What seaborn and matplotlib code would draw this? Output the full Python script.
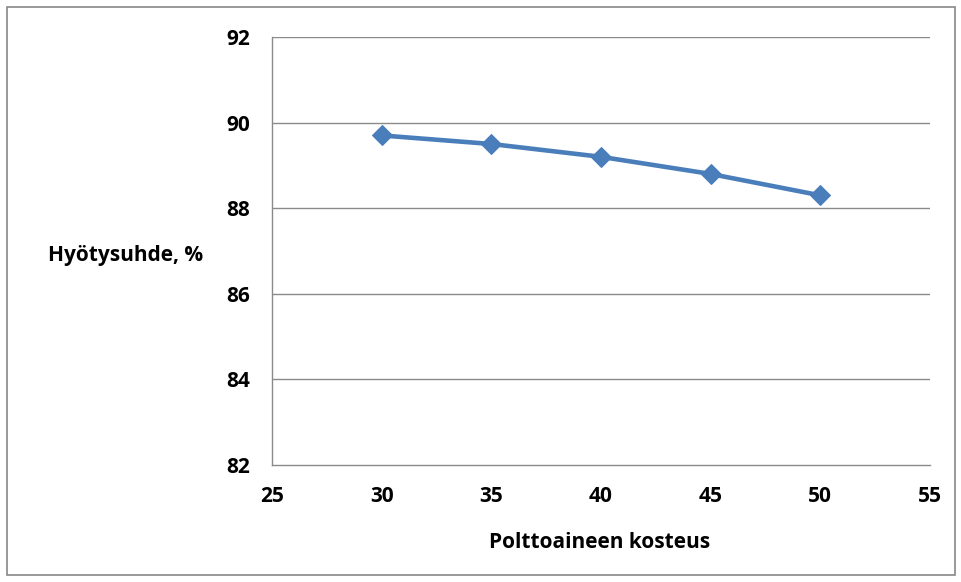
import matplotlib.pyplot as plt
import matplotlib.patches as patches
import pandas as pd
import seaborn as sns

# Data
moisture = [30, 35, 40, 45, 50]
efficiency = [89.7, 89.5, 89.2, 88.8, 88.3]
x_ticks = [25, 30, 35, 40, 45, 50, 55]
y_ticks = [82, 84, 86, 88, 90, 92]

df = pd.DataFrame({'kosteus': moisture, 'hyotysuhde': efficiency})

sns.set_style('white')
plt.rcParams['font.family'] = ['Open Sans', 'DejaVu Sans']
plt.rcParams['text.color'] = 'black'
plt.rcParams['xtick.labelcolor'] = 'black'
plt.rcParams['ytick.labelcolor'] = 'black'

fig = plt.figure(figsize=(9.62, 5.82), dpi=100)
ax = fig.add_axes([272 / 962, 1 - 465 / 582, (930 - 272) / 962, (465 - 37) / 582])

grid_col = '#8a8a8a'
line_col = '#4a7ebb'

sns.lineplot(data=df, x='kosteus', y='hyotysuhde', ax=ax, color=line_col,
             linewidth=3.3, marker='D', markersize=10.5, markeredgecolor=line_col,
             zorder=3)

ax.set_xlim(25, 55)
ax.set_ylim(82, 92)
ax.set_xticks(x_ticks)
ax.set_yticks(y_ticks)
ax.set_xticklabels([str(t) for t in x_ticks], fontsize=15, fontweight='bold')
ax.set_yticklabels([str(t) for t in y_ticks], fontsize=15, fontweight='bold')

# horizontal gridlines only
for y in y_ticks[1:]:
    ax.axhline(y, color=grid_col, linewidth=1, zorder=1)

for side in ['top', 'right']:
    ax.spines[side].set_visible(False)
for side in ['left', 'bottom']:
    ax.spines[side].set_color(grid_col)
    ax.spines[side].set_linewidth(1)

ax.tick_params(axis='both', which='major', direction='out', length=6,
               width=1, color=grid_col)
ax.tick_params(axis='x', pad=9)
ax.tick_params(axis='y', pad=10)

ax.set_xlabel('')
ax.set_ylabel('')
fig.text(600 / 962, 1 - 543 / 582, 'Polttoaineen kosteus', ha='center', va='center',
         fontsize=15, fontweight='bold')
fig.text(126 / 962, 1 - 255 / 582, 'Hyötysuhde, %', ha='center', va='center',
         fontsize=15, fontweight='bold')

# outer chart border
fig.patches.append(patches.Rectangle((7 / 962, 7 / 582), 948 / 962, 568 / 582,
                                     transform=fig.transFigure, fill=False,
                                     edgecolor='#888888', linewidth=1.2))

fig.savefig('out.png', dpi=100)
